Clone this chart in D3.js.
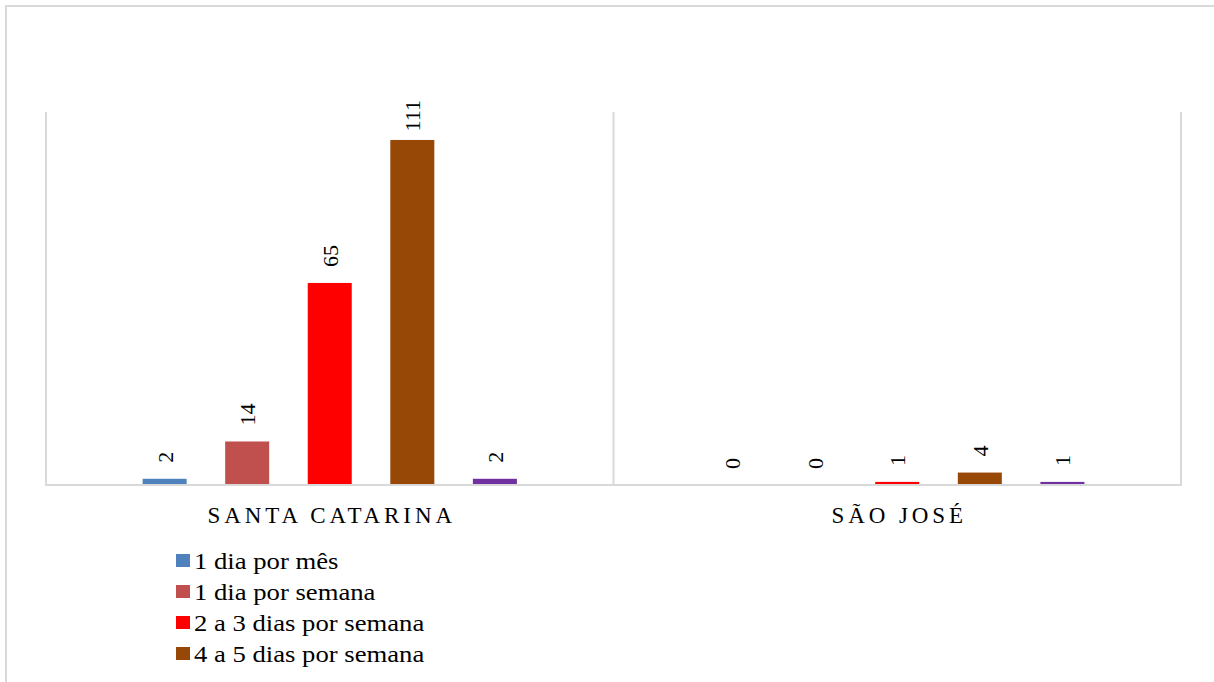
<!DOCTYPE html>
<html><head><meta charset="utf-8">
<script src="https://cdn.jsdelivr.net/npm/d3@7"></script>
<style>html,body{margin:0;padding:0;background:#fff;overflow:hidden}svg{display:block}</style>
</head><body>
<script>
const categories = ["SANTA CATARINA", "SÃO JOSÉ"];
const seriesNames = ["1 dia por mês", "1 dia por semana", "2 a 3 dias por semana", "4 a 5 dias por semana", "Todos os dias"];
const seriesColors = ["#4f81bd", "#c0504d", "#ff0000", "#974706", "#7030a0"];
const valuesSantaCatarina = [2, 14, 65, 111, 2];
const valuesSaoJose = [0, 0, 1, 4, 1];
const allValues = [valuesSantaCatarina, valuesSaoJose];
const legendShown = seriesNames.slice(0, 4);
const yMax = 120;

const W = 1214, H = 682;
const svg = d3.select("body").append("svg").attr("width", W).attr("height", H);
const font = "Liberation Serif, Times New Roman, serif";

// outer chart border (only top and left edges visible)
svg.append("line").attr("x1", 6).attr("x2", W).attr("y1", 6).attr("y2", 6)
  .attr("stroke", "#d9d9d9").attr("stroke-width", 2);
svg.append("line").attr("x1", 6).attr("x2", 6).attr("y1", 5).attr("y2", H)
  .attr("stroke", "#d9d9d9").attr("stroke-width", 2);

const plot = {left: 46, right: 1181, top: 112, bottom: 485};
const x0 = d3.scaleBand().domain(categories).range([plot.left, plot.right]).paddingInner(0).paddingOuter(0);
const x1 = d3.scaleBand().domain(seriesNames).range([0, x0.bandwidth()]).paddingInner(0.467).paddingOuter(1.17);
const y = d3.scaleLinear().domain([0, yMax]).range([plot.bottom, plot.top]);

// vertical category separators
const seps = [plot.left].concat(categories.map(c => x0(c) + x0.bandwidth()));
svg.selectAll("line.sep").data(seps).enter().append("line")
  .attr("x1", d => d).attr("x2", d => d).attr("y1", plot.top).attr("y2", plot.bottom)
  .attr("stroke", "#d9d9d9").attr("stroke-width", 2);

const groups = svg.selectAll("g.cat").data(categories).enter().append("g")
  .attr("transform", c => `translate(${x0(c)},0)`);

groups.each(function(c, ci) {
  const g = d3.select(this);
  const vals = allValues[ci];
  g.selectAll("rect").data(vals).enter().append("rect")
    .attr("x", (d, i) => x1(seriesNames[i]))
    .attr("width", x1.bandwidth())
    .attr("y", d => y(d))
    .attr("height", d => plot.bottom - y(d))
    .attr("fill", (d, i) => seriesColors[i]);
  g.selectAll("text").data(vals).enter().append("text")
    .text(d => d)
    .attr("font-family", font).attr("font-size", 22).attr("fill", "#000")
    .attr("text-anchor", "start")
    .each(function(d, i) {
      const t = d3.select(this);
      const len = this.getComputedTextLength();
      let start = y(d) - 16;
      if (start - len < 100) start = 100 + len;
      const cx = x1(seriesNames[i]) + x1.bandwidth() / 2 + 8;
      t.attr("transform", `translate(${cx},${start}) rotate(-90)`);
    });
});

// baseline
svg.append("line").attr("x1", plot.left - 1).attr("x2", plot.right + 1).attr("y1", plot.bottom).attr("y2", plot.bottom)
  .attr("stroke", "#d9d9d9").attr("stroke-width", 2);

// category labels
svg.selectAll("text.cat").data(categories).enter().append("text")
  .attr("x", c => x0(c) + x0.bandwidth() / 2 + 2)
  .attr("y", 523)
  .attr("text-anchor", "middle")
  .attr("font-family", font).attr("font-size", 23).attr("letter-spacing", 3.9)
  .attr("fill", "#000")
  .text(c => c);

// legend
const lg = svg.selectAll("g.leg").data(legendShown).enter().append("g")
  .attr("transform", (d, i) => `translate(176,${554 + i * 31})`);
lg.append("rect").attr("width", 14).attr("height", 13).attr("fill", (d, i) => seriesColors[i]);
lg.append("text").attr("transform", "translate(18,15) scale(1.16,1)")
  .attr("font-family", font).attr("font-size", 23).attr("fill", "#000").text(d => d);
</script>
</body></html>
